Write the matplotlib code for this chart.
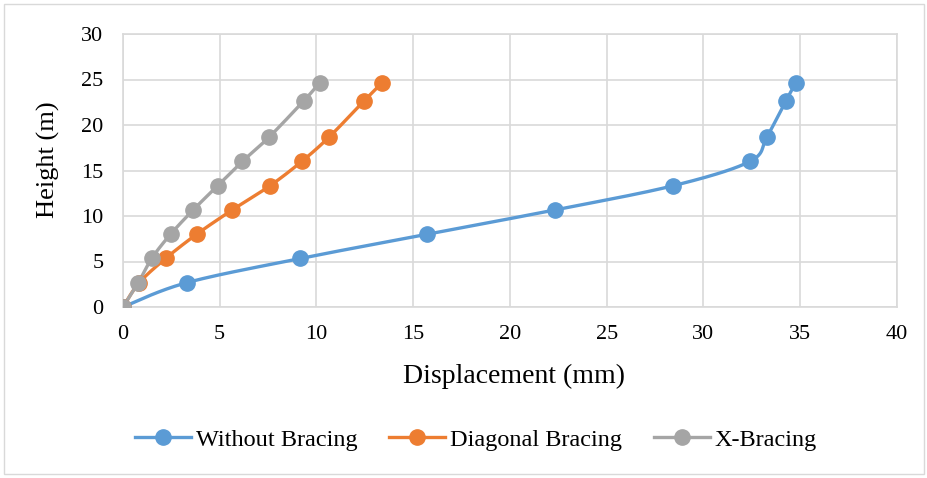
import numpy as np
import matplotlib

matplotlib.use('Agg')
import matplotlib.pyplot as plt
from matplotlib.patches import Rectangle

plt.rcParams['font.family'] = ['Liberation Serif', 'DejaVu Serif']

# storey heights (m)
height = [0, 2.67, 5.33, 8, 10.67, 13.33, 16, 18.67, 22.67, 24.67]

# lateral displacement (mm) for each bracing case
without_bracing = [0, 3.29, 9.16, 15.73, 22.33, 28.44, 32.4, 33.27, 34.26, 34.78]
diagonal_bracing = [0, 0.84, 2.2, 3.81, 5.65, 7.6, 9.24, 10.65, 12.47, 13.4]
x_bracing = [0, 0.79, 1.48, 2.46, 3.63, 4.89, 6.17, 7.55, 9.35, 10.18]

series = [
    ('Without Bracing', without_bracing, '#5B9BD5'),
    ('Diagonal Bracing', diagonal_bracing, '#ED7D31'),
    ('X-Bracing', x_bracing, '#A5A5A5'),
]


def smooth(x, y, n=30):
    # Catmull-Rom curve through the points, like a spreadsheet "smoothed line"
    p = np.column_stack([x, y]).astype(float)
    p = np.vstack([p[0], p, p[-1]])
    out = []
    t = np.linspace(0, 1, n)
    for i in range(1, len(p) - 2):
        p0, p1, p2, p3 = p[i - 1], p[i], p[i + 1], p[i + 2]
        c1 = p1 + (p2 - p0) / 6
        c2 = p2 - (p3 - p1) / 6
        seg = ((1 - t) ** 3)[:, None] * p1 + (3 * (1 - t) ** 2 * t)[:, None] * c1 \
            + (3 * (1 - t) * t ** 2)[:, None] * c2 + (t ** 3)[:, None] * p2
        out.append(seg)
    out = np.vstack(out)
    return out[:, 0], out[:, 1]


fig = plt.figure(figsize=(9.28, 4.78), dpi=100)
ax = fig.add_axes([123 / 928, 1 - 307 / 478, (897 - 123) / 928, (307 - 34) / 478])

for name, disp, color in series:
    sx, sy = smooth(disp, height)
    ax.plot(sx, sy, color=color, lw=2.4, solid_capstyle='round', zorder=3)
    ax.plot(disp, height, 'o', color=color, ms=11, zorder=4)
    ax.plot([], [], '-o', color=color, lw=2.4, ms=11, label=name)

ax.set_xlim(0, 40)
ax.set_ylim(0, 30)
ax.set_xticks(np.arange(0, 41, 5))
ax.set_yticks(np.arange(0, 31, 5))
ax.grid(True, color='#D9D9D9', lw=1.2)
ax.set_axisbelow(True)
for s in ax.spines.values():
    s.set_color('#D9D9D9')
    s.set_linewidth(1.2)
ax.tick_params(length=0, labelsize=16)
ax.tick_params(axis='y', pad=14)
ax.tick_params(axis='x', pad=13)
for lbl in ax.get_xticklabels() + ax.get_yticklabels():
    lbl.set_clip_on(False)

ax.set_xlabel('Displacement (mm)', fontsize=20, va='center')
ax.xaxis.set_label_coords(0.505, (307 - 376) / 273)
ax.set_ylabel('Height (m)', fontsize=19, va='center')
ax.yaxis.set_label_coords((48 - 123) / 774, (307 - 160) / 273)

fig.legend(loc='center', bbox_to_anchor=(0.513, 1 - 440 / 478), ncol=3, frameon=False,
           fontsize=17.5, handlelength=2.3, columnspacing=1.3, handletextpad=0.2)

fig.patches.append(Rectangle((4 / 928, 4 / 478), 920 / 928, 470 / 478, transform=fig.transFigure,
                             fill=False, edgecolor='#D9D9D9', lw=1))

plt.savefig('out.png', dpi=100)
